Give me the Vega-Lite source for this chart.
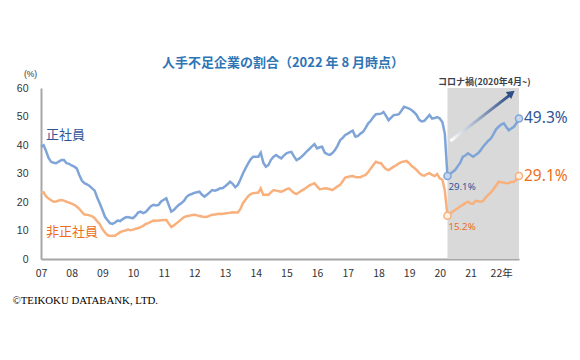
{
  "$schema": "https://vega.github.io/schema/vega-lite/v6.json",
  "width": 478,
  "height": 171,
  "autosize": {"type": "none"},
  "padding": {"left": 41, "top": 88, "right": 61, "bottom": 101},
  "background": "white",
  "config": {"view": {"stroke": null}, "font": "Noto Sans CJK JP"},
  "title": {
    "text": "人手不足企業の割合（2022 年 8 月時点）",
    "fontSize": 13,
    "fontWeight": "bold",
    "color": "#2E75B6",
    "font": "Noto Sans CJK JP",
    "anchor": "middle",
    "frame": "group",
    "dx": 3,
    "offset": -1
  },
  "datasets": {
    "main": [
      {"d": "2007/01/01", "正社員": 39.4, "非正社員": 23.3}, {"d": "2007/02/01", "正社員": 39.9, "非正社員": 23.4}, {"d": "2007/03/01", "正社員": 38.0, "非正社員": 22.0}, {"d": "2007/04/01", "正社員": 35.5, "非正社員": 21.2}, {"d": "2007/05/01", "正社員": 34.1, "非正社員": 20.6}, {"d": "2007/06/01", "正社員": 33.8, "非正社員": 20.1}, {"d": "2007/07/01", "正社員": 33.6, "非正社員": 20.2}, {"d": "2007/08/01", "正社員": 34.2, "非正社員": 20.5}, {"d": "2007/09/01", "正社員": 34.7, "非正社員": 20.7}, {"d": "2007/10/01", "正社員": 34.7, "非正社員": 20.5}, {"d": "2007/11/01", "正社員": 33.6, "非正社員": 20.1}, {"d": "2007/12/01", "正社員": 33.4, "非正社員": 19.8},
      {"d": "2008/01/01", "正社員": 32.8, "非正社員": 19.4}, {"d": "2008/02/01", "正社員": 32.4, "非正社員": 19.0}, {"d": "2008/03/01", "正社員": 31.8, "非正社員": 18.4}, {"d": "2008/04/01", "正社員": 29.5, "非正社員": 17.6}, {"d": "2008/05/01", "正社員": 27.5, "非正社員": 16.5}, {"d": "2008/06/01", "正社員": 26.6, "非正社員": 15.6}, {"d": "2008/07/01", "正社員": 26.2, "非正社員": 15.5}, {"d": "2008/08/01", "正社員": 25.6, "非正社員": 15.3}, {"d": "2008/09/01", "正社員": 24.8, "非正社員": 15.0}, {"d": "2008/10/01", "正社員": 24.0, "非正社員": 14.3}, {"d": "2008/11/01", "正社員": 21.5, "非正社員": 13.2}, {"d": "2008/12/01", "正社員": 19.5, "非正社員": 12.2},
      {"d": "2009/01/01", "正社員": 17.2, "非正社員": 10.5}, {"d": "2009/02/01", "正社員": 14.8, "非正社員": 9.3}, {"d": "2009/03/01", "正社員": 13.7, "非正社員": 8.4}, {"d": "2009/04/01", "正社員": 12.6, "非正社員": 8.1}, {"d": "2009/05/01", "正社員": 12.3, "非正社員": 8.2}, {"d": "2009/06/01", "正社員": 12.8, "非正社員": 8.2}, {"d": "2009/07/01", "正社員": 13.5, "非正社員": 8.8}, {"d": "2009/08/01", "正社員": 13.3, "非正社員": 9.4}, {"d": "2009/09/01", "正社員": 14.0, "非正社員": 9.8}, {"d": "2009/10/01", "正社員": 14.6, "非正社員": 10.0}, {"d": "2009/11/01", "正社員": 14.7, "非正社員": 10.3}, {"d": "2009/12/01", "正社員": 14.5, "非正社員": 10.1},
      {"d": "2010/01/01", "正社員": 14.3, "非正社員": 10.3}, {"d": "2010/02/01", "正社員": 15.2, "非正社員": 10.6}, {"d": "2010/03/01", "正社員": 16.3, "非正社員": 10.8}, {"d": "2010/04/01", "正社員": 16.6, "非正社員": 11.2}, {"d": "2010/05/01", "正社員": 16.1, "非正社員": 11.6}, {"d": "2010/06/01", "正社員": 16.5, "非正社員": 12.3}, {"d": "2010/07/01", "正社員": 17.5, "非正社員": 12.6}, {"d": "2010/08/01", "正社員": 18.5, "非正社員": 13.0}, {"d": "2010/09/01", "正社員": 19.0, "非正社員": 13.5}, {"d": "2010/10/01", "正社員": 18.8, "非正社員": 13.4}, {"d": "2010/11/01", "正社員": 19.0, "非正社員": 13.5}, {"d": "2010/12/01", "正社員": 20.2, "非正社員": 13.6},
      {"d": "2011/01/01", "正社員": 20.8, "非正社員": 13.7}, {"d": "2011/02/01", "正社員": 21.3, "非正社員": 13.7}, {"d": "2011/03/01", "正社員": 19.0, "非正社員": 12.5}, {"d": "2011/04/01", "正社員": 16.6, "非正社員": 11.2}, {"d": "2011/05/01", "正社員": 17.2, "非正社員": 11.8}, {"d": "2011/06/01", "正社員": 18.2, "非正社員": 12.5}, {"d": "2011/07/01", "正社員": 19.0, "非正社員": 13.2}, {"d": "2011/08/01", "正社員": 19.6, "非正社員": 14.0}, {"d": "2011/09/01", "正社員": 20.5, "非正社員": 14.7}, {"d": "2011/10/01", "正社員": 21.8, "非正社員": 15.0}, {"d": "2011/11/01", "正社員": 22.5, "非正社員": 15.2}, {"d": "2011/12/01", "正社員": 22.8, "非正社員": 15.4},
      {"d": "2012/01/01", "正社員": 23.2, "非正社員": 15.5}, {"d": "2012/02/01", "正社員": 23.4, "非正社員": 15.3}, {"d": "2012/03/01", "正社員": 23.6, "非正社員": 15.1}, {"d": "2012/04/01", "正社員": 22.5, "非正社員": 14.9}, {"d": "2012/05/01", "正社員": 21.9, "非正社員": 14.7}, {"d": "2012/06/01", "正社員": 22.6, "非正社員": 14.8}, {"d": "2012/07/01", "正社員": 23.4, "非正社員": 15.2}, {"d": "2012/08/01", "正社員": 24.2, "非正社員": 15.5}, {"d": "2012/09/01", "正社員": 24.0, "非正社員": 15.6}, {"d": "2012/10/01", "正社員": 24.3, "非正社員": 15.8}, {"d": "2012/11/01", "正社員": 24.8, "非正社員": 15.9}, {"d": "2012/12/01", "正社員": 24.8, "非正社員": 15.8},
      {"d": "2013/01/01", "正社員": 25.5, "非正社員": 16.0}, {"d": "2013/02/01", "正社員": 26.3, "非正社員": 16.1}, {"d": "2013/03/01", "正社員": 27.1, "非正社員": 16.2}, {"d": "2013/04/01", "正社員": 26.4, "非正社員": 16.4}, {"d": "2013/05/01", "正社員": 25.2, "非正社員": 16.3}, {"d": "2013/06/01", "正社員": 26.0, "非正社員": 16.3}, {"d": "2013/07/01", "正社員": 27.8, "非正社員": 17.5}, {"d": "2013/08/01", "正社員": 30.0, "非正社員": 19.6}, {"d": "2013/09/01", "正社員": 31.8, "非正社員": 20.8}, {"d": "2013/10/01", "正社員": 33.5, "非正社員": 22.0}, {"d": "2013/11/01", "正社員": 35.0, "非正社員": 22.8}, {"d": "2013/12/01", "正社員": 35.9, "非正社員": 23.1},
      {"d": "2014/01/01", "正社員": 35.9, "非正社員": 23.2}, {"d": "2014/02/01", "正社員": 35.9, "非正社員": 23.3}, {"d": "2014/03/01", "正社員": 37.3, "非正社員": 24.8}, {"d": "2014/04/01", "正社員": 33.8, "非正社員": 22.5}, {"d": "2014/05/01", "正社員": 32.4, "非正社員": 22.6}, {"d": "2014/06/01", "正社員": 33.0, "非正社員": 22.5}, {"d": "2014/07/01", "正社員": 34.8, "非正社員": 23.4}, {"d": "2014/08/01", "正社員": 35.9, "非正社員": 24.2}, {"d": "2014/09/01", "正社員": 36.5, "非正社員": 24.0}, {"d": "2014/10/01", "正社員": 35.8, "非正社員": 23.8}, {"d": "2014/11/01", "正社員": 35.3, "非正社員": 23.6}, {"d": "2014/12/01", "正社員": 36.3, "非正社員": 24.0},
      {"d": "2015/01/01", "正社員": 37.1, "非正社員": 24.5}, {"d": "2015/02/01", "正社員": 37.4, "非正社員": 24.8}, {"d": "2015/03/01", "正社員": 37.6, "非正社員": 24.0}, {"d": "2015/04/01", "正社員": 36.0, "非正社員": 23.2}, {"d": "2015/05/01", "正社員": 34.7, "非正社員": 22.8}, {"d": "2015/06/01", "正社員": 35.2, "非正社員": 23.4}, {"d": "2015/07/01", "正社員": 35.9, "非正社員": 24.0}, {"d": "2015/08/01", "正社員": 36.8, "非正社員": 24.5}, {"d": "2015/09/01", "正社員": 37.8, "非正社員": 25.2}, {"d": "2015/10/01", "正社員": 38.6, "非正社員": 25.8}, {"d": "2015/11/01", "正社員": 39.5, "非正社員": 26.2}, {"d": "2015/12/01", "正社員": 40.3, "非正社員": 26.6},
      {"d": "2016/01/01", "正社員": 38.8, "非正社員": 25.5}, {"d": "2016/02/01", "正社員": 39.2, "非正社員": 24.5}, {"d": "2016/03/01", "正社員": 39.4, "非正社員": 24.6}, {"d": "2016/04/01", "正社員": 37.3, "非正社員": 24.8}, {"d": "2016/05/01", "正社員": 36.8, "非正社員": 24.7}, {"d": "2016/06/01", "正社員": 36.5, "非正社員": 24.5}, {"d": "2016/07/01", "正社員": 37.2, "非正社員": 24.2}, {"d": "2016/08/01", "正社員": 38.2, "非正社員": 24.8}, {"d": "2016/09/01", "正社員": 39.8, "非正社員": 25.5}, {"d": "2016/10/01", "正社員": 41.7, "非正社員": 26.0}, {"d": "2016/11/01", "正社員": 42.5, "非正社員": 27.3}, {"d": "2016/12/01", "正社員": 43.5, "非正社員": 28.6},
      {"d": "2017/01/01", "正社員": 44.0, "非正社員": 28.8}, {"d": "2017/02/01", "正社員": 44.6, "非正社員": 29.0}, {"d": "2017/03/01", "正社員": 45.0, "非正社員": 29.1}, {"d": "2017/04/01", "正社員": 42.9, "非正社員": 28.8}, {"d": "2017/05/01", "正社員": 43.2, "非正社員": 28.7}, {"d": "2017/06/01", "正社員": 44.0, "非正社員": 28.7}, {"d": "2017/07/01", "正社員": 44.6, "非正社員": 29.2}, {"d": "2017/08/01", "正社員": 46.0, "非正社員": 29.5}, {"d": "2017/09/01", "正社員": 47.6, "非正社員": 30.5}, {"d": "2017/10/01", "正社員": 48.5, "非正社員": 31.8}, {"d": "2017/11/01", "正社員": 49.8, "非正社員": 33.0}, {"d": "2017/12/01", "正社員": 50.8, "非正社員": 34.1},
      {"d": "2018/01/01", "正社員": 50.9, "非正社員": 33.8}, {"d": "2018/02/01", "正社員": 51.0, "非正社員": 33.6}, {"d": "2018/03/01", "正社員": 51.6, "非正社員": 32.5}, {"d": "2018/04/01", "正社員": 50.2, "非正社員": 31.5}, {"d": "2018/05/01", "正社員": 48.7, "非正社員": 31.2}, {"d": "2018/06/01", "正社員": 49.6, "非正社員": 31.8}, {"d": "2018/07/01", "正社員": 50.5, "非正社員": 32.4}, {"d": "2018/08/01", "正社員": 50.6, "非正社員": 32.9}, {"d": "2018/09/01", "正社員": 50.8, "非正社員": 33.6}, {"d": "2018/10/01", "正社員": 52.0, "非正社員": 34.0}, {"d": "2018/11/01", "正社員": 53.4, "非正社員": 34.2}, {"d": "2018/12/01", "正社員": 53.1, "非正社員": 34.4},
      {"d": "2019/01/01", "正社員": 52.8, "非正社員": 33.6}, {"d": "2019/02/01", "正社員": 52.2, "非正社員": 32.6}, {"d": "2019/03/01", "正社員": 51.5, "非正社員": 32.0}, {"d": "2019/04/01", "正社員": 50.5, "非正社員": 31.2}, {"d": "2019/05/01", "正社員": 48.8, "非正社員": 30.2}, {"d": "2019/06/01", "正社員": 48.3, "非正社員": 29.4}, {"d": "2019/07/01", "正社員": 48.5, "非正社員": 29.2}, {"d": "2019/08/01", "正社員": 49.5, "非正社員": 29.8}, {"d": "2019/09/01", "正社員": 50.5, "非正社員": 30.1}, {"d": "2019/10/01", "正社員": 49.3, "非正社員": 29.5}, {"d": "2019/11/01", "正社員": 49.5, "非正社員": 29.1}, {"d": "2019/12/01", "正社員": 49.8, "非正社員": 29.8},
      {"d": "2020/01/01", "正社員": 49.3, "非正社員": 28.3}, {"d": "2020/02/01", "正社員": 48.0, "非正社員": 27.8}, {"d": "2020/03/01", "正社員": 44.0, "非正社員": 24.0}, {"d": "2020/04/01", "正社員": 29.1, "非正社員": 15.2}, {"d": "2020/05/01", "正社員": 29.8, "非正社員": 16.0}, {"d": "2020/06/01", "正社員": 30.5, "非正社員": 16.6}, {"d": "2020/07/01", "正社員": 31.2, "非正社員": 17.2}, {"d": "2020/08/01", "正社員": 32.5, "非正社員": 17.8}, {"d": "2020/09/01", "正社員": 33.8, "非正社員": 18.5}, {"d": "2020/10/01", "正社員": 35.9, "非正社員": 19.0}, {"d": "2020/11/01", "正社員": 36.3, "非正社員": 19.6}, {"d": "2020/12/01", "正社員": 37.1, "非正社員": 20.1},
      {"d": "2021/01/01", "正社員": 36.5, "非正社員": 19.5}, {"d": "2021/02/01", "正社員": 35.9, "非正社員": 19.4}, {"d": "2021/03/01", "正社員": 36.5, "非正社員": 20.4}, {"d": "2021/04/01", "正社員": 37.1, "非正社員": 20.3}, {"d": "2021/05/01", "正社員": 38.2, "非正社員": 20.1}, {"d": "2021/06/01", "正社員": 39.5, "非正社員": 20.4}, {"d": "2021/07/01", "正社員": 40.5, "非正社員": 21.6}, {"d": "2021/08/01", "正社員": 41.5, "非正社員": 22.5}, {"d": "2021/09/01", "正社員": 42.3, "非正社員": 23.4}, {"d": "2021/10/01", "正社員": 43.8, "非正社員": 24.5}, {"d": "2021/11/01", "正社員": 45.5, "非正社員": 25.8}, {"d": "2021/12/01", "正社員": 46.4, "非正社員": 27.1},
      {"d": "2022/01/01", "正社員": 47.2, "非正社員": 26.9}, {"d": "2022/02/01", "正社員": 47.6, "非正社員": 26.8}, {"d": "2022/03/01", "正社員": 46.4, "非正社員": 26.6}, {"d": "2022/04/01", "正社員": 45.2, "非正社員": 26.7}, {"d": "2022/05/01", "正社員": 45.8, "非正社員": 27.0}, {"d": "2022/06/01", "正社員": 46.4, "非正社員": 27.1}, {"d": "2022/07/01", "正社員": 47.6, "非正社員": 27.8}, {"d": "2022/08/01", "正社員": 49.3, "非正社員": 29.1}
    ],
    "shade": [{"d": "2020/04/01", "d2": "2022/08/01", "v": 0, "v2": 60}],
    "pts": [
      {"d": "2020/04/01", "v": 29.1, "s": "正社員", "lab": "29.1%", "kind": "low"},
      {"d": "2020/04/01", "v": 15.2, "s": "非正社員", "lab": "15.2%", "kind": "low"},
      {"d": "2022/08/01", "v": 49.3, "s": "正社員", "lab": "49.3%", "kind": "end"},
      {"d": "2022/08/01", "v": 29.1, "s": "非正社員", "lab": "29.1%", "kind": "end"}
    ],
    "names": [
      {"d": "2007/01/01", "v": 43.5, "s": "正社員"},
      {"d": "2007/01/01", "v": 9.3, "s": "非正社員"}
    ],
    "arrow": [
      {"d": "2020/05/07", "v": 41.4},
      {"d": "2022/04/09", "v": 57.4}
    ],
    "head": [{"d": "2022/05/04", "v": 58.2}],
    "note": [{"d": "2021/06/15", "v": 62.1, "lab": "コロナ禍(2020年4月~)"}]
  },
  "encoding": {
    "x": {
      "field": "d", "type": "temporal",
      "scale": {"domain": [{"year": 2007, "month": 1, "date": 1}, {"year": 2022, "month": 8, "date": 1}]},
      "axis": {
        "title": "©TEIKOKU DATABANK, LTD.",
        "titleX": -29, "titleY": 41, "titleAlign": "left", "titleAnchor": "start", "titleBaseline": "middle",
        "titleFont": "Liberation Serif", "titleFontSize": 10.8, "titleFontWeight": "normal", "titleColor": "#000000",
        "tickCount": {"interval": "year", "step": 1},
        "labelExpr": "timeFormat(datum.value, '%y') + (year(datum.value) == 2022 ? '年' : '')",
        "grid": false, "ticks": false, "domainColor": "#A6A6A6", "domainWidth": 2,
        "labelPadding": 9, "labelFontSize": 10.5, "labelColor": "#333333", "labelFont": "Noto Sans CJK JP",
        "labelOverlap": false, "labelFlush": false
      }
    },
    "y": {
      "field": "v", "type": "quantitative",
      "scale": {"domain": [0, 60], "nice": false},
      "axis": {
        "title": "(%)", "titleAngle": 0, "titleX": -11, "titleY": -15, "titleAlign": "center", "titleBaseline": "middle",
        "titleFontSize": 8.5, "titleFontWeight": "normal", "titleColor": "#333333", "titleFont": "Liberation Sans",
        "values": [0, 10, 20, 30, 40, 50, 60],
        "labelOverlap": false, "labelFlush": false,
        "grid": false, "ticks": false, "domainColor": "#A6A6A6", "domainWidth": 2,
        "labelPadding": 13, "labelFontSize": 10.5, "labelColor": "#333333", "labelFont": "Liberation Sans"
      }
    }
  },
  "layer": [
    {
      "data": {"name": "shade"},
      "mark": {"type": "rect", "color": "#D9D9D9"},
      "encoding": {
        "x2": {"field": "d2"},
        "y2": {"field": "v2"}
      }
    },
    {
      "data": {"name": "main"},
      "transform": [{"fold": ["正社員", "非正社員"], "as": ["s", "v"]}],
      "mark": {"type": "line", "strokeWidth": 2.5},
      "encoding": {
        "stroke": {"field": "s", "type": "nominal", "scale": {"domain": ["正社員", "非正社員"], "range": ["#7FA5D8", "#F8B07C"]}, "legend": null}
      }
    },
    {
      "data": {"name": "arrow"},
      "mark": {
        "type": "line", "strokeWidth": 3, "strokeCap": "butt",
        "stroke": {"gradient": "linear", "x1": 0, "y1": 0, "x2": 1, "y2": 0,
          "stops": [{"offset": 0, "color": "#FFFFFF"}, {"offset": 1, "color": "#2F4E86"}]}
      },
      "encoding": {}
    },
    {
      "data": {"name": "head"},
      "mark": {"type": "point", "shape": "triangle-up", "filled": true, "color": "#2F4E86", "size": 80, "angle": 52, "opacity": 1},
      "encoding": {}
    },
    {
      "data": {"name": "pts"},
      "mark": {"type": "point", "filled": false, "size": 50, "strokeWidth": 1.5, "opacity": 1},
      "encoding": {
        "stroke": {"field": "s", "type": "nominal", "legend": null},
        "fill": {"field": "s", "type": "nominal", "scale": {"domain": ["正社員", "非正社員"], "range": ["#C8D8EE", "#FFF0E3"]}, "legend": null}
      }
    },
    {
      "data": {"name": "pts"},
      "transform": [{"filter": "datum.kind == 'end'"}],
      "mark": {"type": "text", "align": "left", "baseline": "middle", "dx": 5, "fontSize": 15.5, "font": "Noto Sans"},
      "encoding": {
        "text": {"field": "lab"},
        "color": {"field": "s", "type": "nominal", "scale": {"domain": ["正社員", "非正社員"], "range": ["#2F5597", "#EC6E1C"]}, "legend": null}
      }
    },
    {
      "data": {"name": "pts"},
      "transform": [{"filter": "datum.kind == 'low'"}],
      "mark": {"type": "text", "align": "left", "baseline": "middle", "dx": 1, "dy": 11, "fontSize": 9.7, "font": "Noto Sans"},
      "encoding": {
        "text": {"field": "lab"},
        "color": {"field": "s", "type": "nominal", "legend": null}
      }
    },
    {
      "data": {"name": "names"},
      "mark": {"type": "text", "align": "left", "baseline": "middle", "dx": 5, "fontSize": 13, "font": "Noto Sans CJK JP"},
      "encoding": {
        "text": {"field": "s"},
        "color": {"field": "s", "type": "nominal", "legend": null}
      }
    },
    {
      "data": {"name": "note"},
      "mark": {"type": "text", "align": "center", "baseline": "middle", "fontSize": 9, "fontWeight": "bold", "color": "#3A3F4E", "font": "Noto Sans CJK JP"},
      "encoding": {
        "text": {"field": "lab"}
      }
    }
  ]
}
